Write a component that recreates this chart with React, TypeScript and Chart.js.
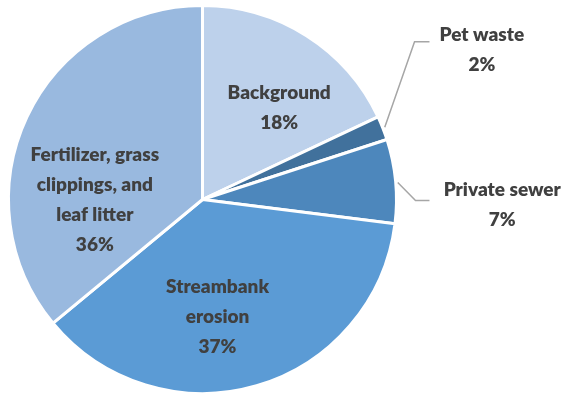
import React, { useEffect, useRef } from "react";
import { Chart, registerables } from "chart.js";

Chart.register(...registerables);

const categories = [
  ["Background"],
  ["Pet waste"],
  ["Private sewer"],
  ["Streambank", "erosion"],
  ["Fertilizer, grass", "clippings, and", "leaf litter"],
];
const values = [18, 2, 7, 37, 36];
const percentLabels = ["18%", "2%", "7%", "37%", "36%"];
const colors = ["#bdd1eb", "#41719c", "#4d87bc", "#5b9bd5", "#99b9df"];

// label placement, in units of the pie radius relative to its centre
const placements: any[] = [
  { kind: "in", angle: -50, r: 0.615 },
  { kind: "out", lx: 1.44, ly: -0.77, anchorAngle: -21.6, elbow: [1.093, -0.813], end: [1.17, -0.813] },
  { kind: "out", lx: 1.545, ly: 0.03, anchorAngle: -5, elbow: [1.098, 0.005], end: [1.17, 0.005] },
  { kind: "in", angle: 82.7, r: 0.61 },
  { kind: "in", angle: 180, r: 0.555 },
];

const FONT = "800 19px Lato, 'Open Sans', sans-serif";
const LINE_H = 30;

const labelPlugin = {
  id: "pieLabels",
  afterDraw(chart: any) {
    const ctx = chart.ctx;
    const meta = chart.getDatasetMeta(0);
    ctx.save();
    ctx.font = FONT;
    ctx.fillStyle = "#404040";
    ctx.textAlign = "center";
    ctx.textBaseline = "middle";
    meta.data.forEach((arc: any, i: number) => {
      const { x, y, outerRadius } = arc.getProps(["x", "y", "outerRadius"], true);
      const R = outerRadius;
      const p = placements[i];
      const lines = [...categories[i], percentLabels[i]];
      let cx: number, cy: number;
      if (p.kind === "in") {
        const a = (p.angle * Math.PI) / 180;
        cx = x + Math.cos(a) * p.r * R;
        cy = y + Math.sin(a) * p.r * R;
      } else {
        cx = x + p.lx * R;
        cy = y + p.ly * R;
        const a = (p.anchorAngle * Math.PI) / 180;
        ctx.save();
        ctx.strokeStyle = "#a6a6a6";
        ctx.lineWidth = 1.5;
        ctx.beginPath();
        ctx.moveTo(x + Math.cos(a) * (R + 2), y + Math.sin(a) * (R + 2));
        ctx.lineTo(x + p.elbow[0] * R, y + p.elbow[1] * R);
        ctx.lineTo(x + p.end[0] * R, y + p.end[1] * R);
        ctx.stroke();
        ctx.restore();
      }
      const top = cy - ((lines.length - 1) * LINE_H) / 2;
      lines.forEach((t, k) => ctx.fillText(t, cx, top + k * LINE_H));
    });
    ctx.restore();
  },
};

export default function App() {
  const ref = useRef<HTMLCanvasElement | null>(null);
  useEffect(() => {
    if (!ref.current) return;
    const chart = new Chart(ref.current, {
      type: "pie",
      data: {
        labels: categories.map((c) => c.join(" ")),
        datasets: [
          {
            data: values,
            backgroundColor: colors,
            borderColor: "#ffffff",
            borderWidth: 3,
          },
        ],
      },
      options: {
        responsive: false,
        animation: false,
        layout: { padding: { left: 6, top: 4, right: 175, bottom: -1 } },
        plugins: { legend: { display: false }, tooltip: { enabled: false } },
      },
      plugins: [labelPlugin],
    });
    return () => chart.destroy();
  }, []);
  return (
    <div style={{ position: "fixed", left: 0, top: 0, width: 574, height: 395, background: "#fff" }}>
      <canvas ref={ref} width={574} height={395} />
    </div>
  );
}
